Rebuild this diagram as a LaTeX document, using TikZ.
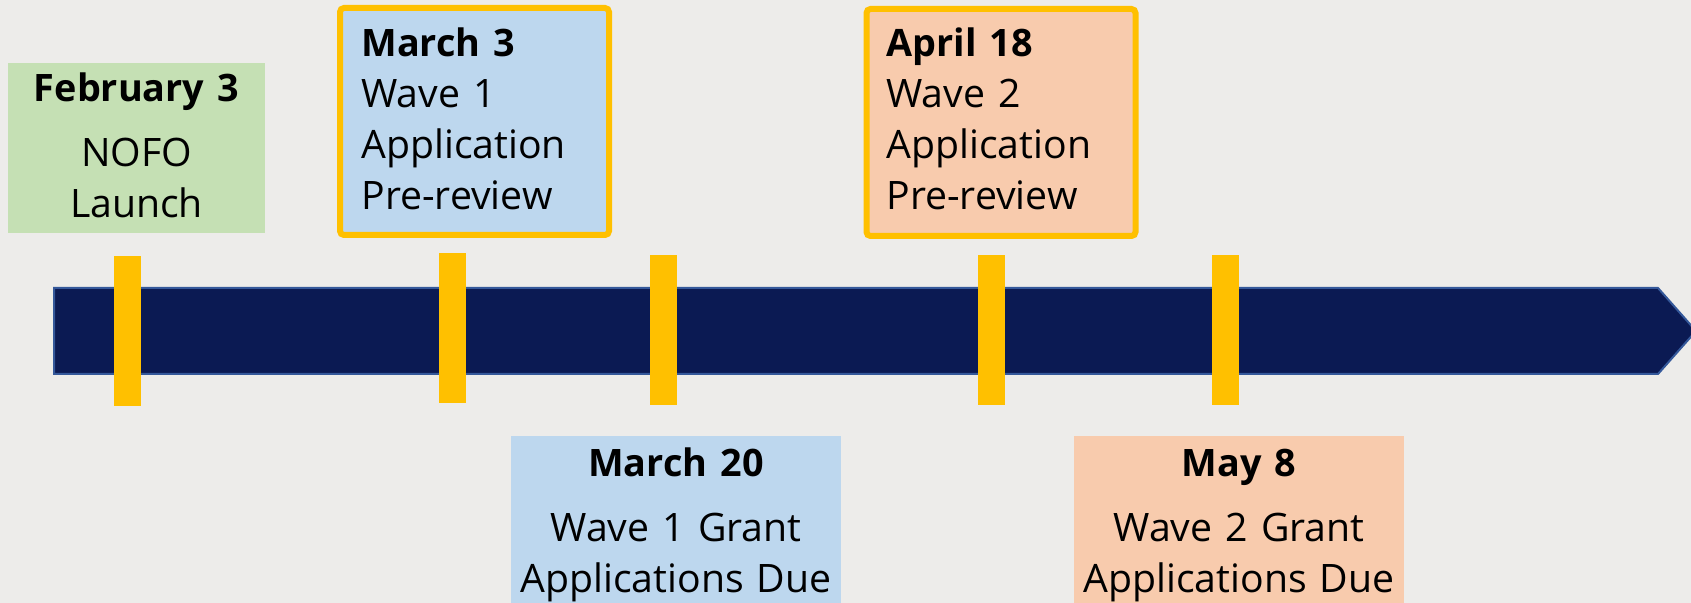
\documentclass[tikz,border=0pt]{standalone}
\usepackage{fontspec}
\setmainfont{Open Sans}
\usetikzlibrary{positioning}

\definecolor{bgcol}{HTML}{EDECEA}
\definecolor{navy}{HTML}{0B1A53}
\definecolor{navyedge}{HTML}{34589A}
\definecolor{gold}{HTML}{FFC000}
\definecolor{greenbox}{HTML}{C5E0B4}
\definecolor{bluebox}{HTML}{BDD7EE}
\definecolor{peachbox}{HTML}{F8CBAD}

% bold date line, set a little narrower
\newcommand{\datehead}[1]{{\fontsize{18.9}{25.5}\selectfont\bfseries #1}}

\begin{document}
\begin{tikzpicture}[
          x = 0.5pt, y = -0.5pt, % one unit is one pixel of the reference
          inner sep = 0pt,
          font = \fontsize{19.6}{25.5}\selectfont
          ]

          \tikzset{
          datebox/.style = {rectangle, minimum width = #1},
          datebox/.default = 165pt,
          wavebox/.style = {rectangle, draw = gold, line width = 3pt, rounded corners = 2pt,
                            minimum width = 134.5pt, minimum height = 113.5pt},
          tick/.style = {rectangle, fill = gold, minimum width = 13.5pt, minimum height = 75pt},
          lefttext/.style = {anchor = base west, text width = 125pt, align = left},
          midtext/.style = {anchor = base, text width = #1, align = center},
          timeline/.style = {fill = navy, draw = navyedge, line width = 1pt}
          }

          % background and margins
          \fill[bgcol] (0,0) rectangle (1691,603);
          \useasboundingbox (0,0) rectangle (1691,603);

          % the time line
          \draw[timeline] (54,288) -- (1658,288) -- (1696,331) -- (1658,374) -- (54,374) -- cycle;

          % boxes
          \node[datebox = 128.5pt, minimum height = 85pt, fill = greenbox] (feb) at (136.5,148) {};
          \node[wavebox, fill = bluebox] (mar3) at (474.5,121.5) {};
          \node[datebox, minimum height = 92pt, fill = bluebox] (mar20) at (676,528) {};
          \node[wavebox, fill = peachbox] (apr18) at (1001,122.5) {};
          \node[datebox, minimum height = 92pt, fill = peachbox] (may8) at (1239,528) {};

          % ticks on the time line
          \node[tick] (t1) at (127.5,331) {};
          \node[tick] (t2) at (452,328) {};
          \node[tick] (t3) at (663,330) {};
          \node[tick] (t4) at (991,330) {};
          \node[tick] (t5) at (1225,330) {};

          % texts
          \node[midtext = 128pt] (febtext) at (136.5,102) {\datehead{February 3}\\[7pt] NOFO\\ Launch};
          \node[lefttext] (mar3text) at (361,57) {\datehead{March 3}\\ Wave 1\\ Application\\ Pre-review};
          \node[midtext = 165pt] (mar20text) at (676,477) {\datehead{March 20}\\[7pt] Wave 1 Grant\\ Applications Due};
          \node[lefttext] (apr18text) at (886,57) {\datehead{April 18}\\ Wave 2\\ Application\\ Pre-review};
          \node[midtext = 165pt] (may8text) at (1239,477) {\datehead{May 8}\\[7pt] Wave 2 Grant\\ Applications Due};

        \end{tikzpicture}
\end{document}
